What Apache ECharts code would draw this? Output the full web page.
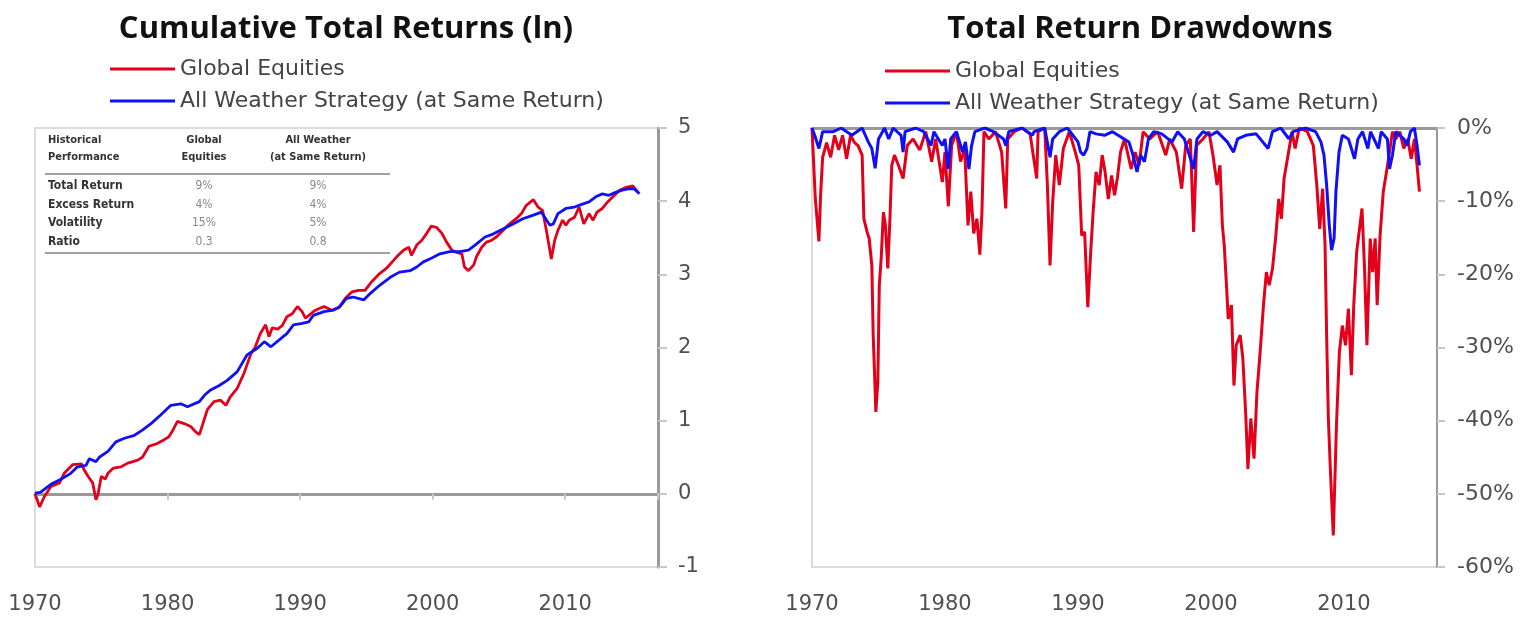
<!DOCTYPE html>
<html>
<head>
<meta charset="utf-8">
<script src="https://cdn.jsdelivr.net/npm/echarts@6/dist/echarts.min.js"></script>
<style>
html,body{margin:0;padding:0;background:#fff;}
#c{width:1539px;height:621px;}
</style>
</head>
<body>
<div id="c"></div>
<script>
// ---------- DATA ----------
const seriesNames = ['Global Equities', 'All Weather Strategy (at Same Return)'];
const xTicks = [1970, 1980, 1990, 2000, 2010];

// Cumulative total returns (ln), Global Equities
const eqCumYears = [1970.0,1970.35,1970.7,1971.2,1971.85,1972.2,1972.85,1973.5,1973.7,1974.0,1974.35,1974.6,1974.75,1975.0,1975.3,1975.5,1975.9,1976.0,1976.5,1977.0,1977.75,1978.1,1978.6,1979.25,1979.75,1980.1,1980.4,1980.75,1981.25,1981.75,1982.1,1982.4,1982.65,1983.0,1983.5,1984.0,1984.4,1984.75,1985.25,1985.77,1986.3,1986.6,1987.0,1987.4,1987.65,1987.9,1988.3,1988.65,1989.0,1989.4,1989.8,1990.15,1990.4,1990.8,1991.15,1991.8,1992.4,1992.9,1993.4,1993.9,1994.4,1994.9,1995.4,1996.0,1996.5,1997.05,1997.4,1997.8,1998.2,1998.4,1998.8,1999.2,1999.55,1999.9,2000.3,2000.7,2001.05,2001.45,2001.8,2002.2,2002.4,2002.7,2003.1,2003.3,2003.7,2004.05,2004.4,2004.8,2005.3,2005.8,2006.3,2006.7,2007.05,2007.6,2007.95,2008.3,2008.6,2008.8,2008.95,2009.2,2009.45,2009.8,2010.05,2010.3,2010.7,2011.05,2011.4,2011.8,2012.1,2012.4,2012.8,2013.2,2013.6,2014.1,2014.6,2015.1,2015.5];
const eqCumValues = [0.0,-0.18,-0.04,0.10,0.15,0.28,0.40,0.41,0.33,0.24,0.15,-0.08,-0.01,0.24,0.20,0.28,0.35,0.37,0.37,0.42,0.46,0.50,0.65,0.69,0.74,0.78,0.87,0.99,0.96,0.92,0.85,0.81,0.95,1.15,1.26,1.28,1.21,1.33,1.44,1.65,1.92,2.00,2.19,2.31,2.15,2.27,2.25,2.30,2.42,2.46,2.56,2.49,2.40,2.46,2.51,2.56,2.51,2.54,2.67,2.76,2.78,2.78,2.90,3.01,3.08,3.19,3.26,3.33,3.37,3.26,3.40,3.47,3.56,3.66,3.64,3.56,3.44,3.33,3.30,3.28,3.10,3.05,3.13,3.24,3.37,3.44,3.46,3.51,3.60,3.69,3.76,3.83,3.94,4.02,3.92,3.87,3.58,3.37,3.21,3.46,3.60,3.74,3.67,3.74,3.78,3.92,3.69,3.83,3.74,3.85,3.90,3.99,4.06,4.15,4.19,4.21,4.12];

// Cumulative total returns (ln), All Weather
const awCumYears = [1970.0,1970.4,1971.2,1971.95,1972.7,1973.2,1973.85,1974.1,1974.6,1974.85,1975.5,1976.1,1976.75,1977.5,1978.1,1978.75,1979.5,1980.25,1981.0,1981.5,1982.4,1982.8,1983.25,1983.9,1984.5,1985.26,1986.0,1986.77,1987.3,1987.8,1988.4,1989.0,1989.5,1990.15,1990.65,1991.0,1991.8,1992.5,1993.0,1993.5,1994.0,1994.8,1995.3,1996.0,1996.8,1997.5,1998.3,1998.8,1999.3,1999.9,2000.55,2001.3,2002.05,2002.7,2003.2,2003.95,2004.55,2005.3,2006.1,2006.8,2007.6,2008.2,2008.6,2008.85,2009.1,2009.45,2010.05,2010.7,2011.3,2011.8,2012.3,2012.8,2013.3,2013.8,2014.3,2014.85,2015.2,2015.6];
const awCumValues = [0.01,0.02,0.13,0.20,0.28,0.37,0.39,0.48,0.44,0.50,0.58,0.71,0.76,0.80,0.87,0.96,1.08,1.21,1.23,1.19,1.26,1.35,1.42,1.48,1.55,1.67,1.90,1.99,2.08,2.01,2.10,2.19,2.31,2.33,2.35,2.44,2.49,2.51,2.56,2.67,2.69,2.65,2.74,2.85,2.96,3.03,3.05,3.10,3.17,3.22,3.28,3.31,3.31,3.33,3.40,3.51,3.55,3.62,3.69,3.76,3.81,3.85,3.74,3.67,3.69,3.83,3.90,3.92,3.96,3.99,4.06,4.10,4.08,4.12,4.15,4.17,4.17,4.10];

// Drawdowns (%), Global Equities
const eqDDYears = [1970.0,1970.25,1970.52,1970.65,1970.8,1971.1,1971.4,1971.7,1972.0,1972.3,1972.6,1972.9,1973.2,1973.46,1973.77,1973.9,1974.14,1974.3,1974.5,1974.6,1974.7,1974.8,1974.95,1975.06,1975.2,1975.37,1975.52,1975.7,1975.86,1976.0,1976.2,1976.5,1976.85,1977.16,1977.6,1978.1,1978.55,1979.0,1979.3,1979.8,1980.0,1980.25,1980.5,1980.86,1981.17,1981.48,1981.73,1981.94,1982.16,1982.4,1982.62,1982.78,1982.93,1983.3,1983.8,1984.26,1984.57,1984.72,1985.2,1985.8,1986.4,1986.9,1987.0,1987.5,1987.7,1987.9,1988.1,1988.33,1988.6,1988.9,1989.35,1989.8,1990.06,1990.28,1990.5,1990.74,1990.96,1991.14,1991.36,1991.6,1991.82,1992.04,1992.28,1992.53,1992.75,1992.96,1993.2,1993.5,1994.0,1994.3,1994.6,1994.9,1995.4,1996.0,1996.6,1996.9,1997.4,1997.8,1998.1,1998.45,1998.7,1998.92,1999.4,1999.85,2000.15,2000.46,2000.68,2000.86,2001.0,2001.17,2001.3,2001.54,2001.73,2001.9,2002.2,2002.4,2002.62,2002.78,2003.0,2003.24,2003.46,2003.7,2003.95,2004.17,2004.38,2004.63,2004.88,2005.1,2005.3,2005.5,2005.8,2006.1,2006.33,2006.64,2007.25,2007.7,2007.96,2008.18,2008.4,2008.58,2008.7,2008.83,2009.0,2009.2,2009.44,2009.66,2009.88,2010.12,2010.34,2010.56,2010.74,2010.96,2011.17,2011.36,2011.55,2011.73,2011.98,2012.16,2012.35,2012.5,2012.72,2012.96,2013.2,2013.43,2013.65,2013.9,2014.2,2014.5,2014.8,2015.06,2015.3,2015.5,2015.68];
const eqDDValues = [0,-9.7,-15.5,-9,-4,-2,-4,-1,-3,-1,-4.2,-1,-2,-2.4,-3.7,-12.4,-14.2,-15.1,-18.8,-28.3,-33.3,-38.8,-34.7,-21.5,-17.9,-11.5,-13.3,-19.2,-12.4,-5.1,-3.7,-5.1,-6.9,-2.4,-1.5,-3,-0.5,-4.6,-1.5,-7.4,-3.3,-10.7,-2.4,-0.5,-4.6,-2.8,-13.3,-8.7,-14.4,-12.4,-17.3,-11.5,-0.5,-1.5,-0.5,-3.3,-11,-1.5,-0.5,0,-0.8,-6.9,-0.5,0,-7.8,-18.8,-10.1,-3.7,-7.8,-2.8,-0.5,-3.3,-5.1,-14.7,-14.2,-24.5,-16.9,-11.5,-6,-7.8,-3.7,-6,-9.7,-6.5,-9.2,-6.9,-3.3,-1.5,-5.6,-3.3,-5.1,-0.5,-1.5,-0.5,-3.7,-1.5,-3.3,-8.3,-2.4,-1.5,-14.2,-2.4,-1.5,-0.5,-3.7,-7.8,-5.1,-13.3,-16,-21.5,-26.1,-24.2,-35.2,-29.7,-28.3,-31.5,-39.3,-46.6,-39.7,-45.2,-36.1,-30.6,-24.2,-19.7,-21.5,-19.2,-14.7,-9.7,-12.4,-6.9,-3.7,-0.5,-2.8,0,-0.5,-2.4,-7.8,-13.8,-8.3,-16,-28.3,-39.7,-47.5,-55.7,-40.6,-30.6,-27,-29.7,-24.7,-33.8,-24.2,-16.9,-13.8,-11,-19.2,-29.7,-15.1,-19.7,-15.1,-24.2,-14.7,-8.7,-6,-3.3,-0.5,-1.5,-0.5,-2.8,-1.5,-4.2,-1.5,-5.1,-8.7];

// Drawdowns (%), All Weather
const awDDYears = [1970.0,1970.2,1970.52,1970.8,1971.6,1972.2,1973.0,1973.77,1974.23,1974.5,1974.75,1975.0,1975.46,1975.77,1976.1,1976.7,1976.85,1977.0,1977.8,1978.4,1978.95,1979.17,1979.8,1980.0,1980.25,1980.43,1980.86,1981.33,1981.54,1981.8,1982.0,1982.25,1983.0,1983.64,1984.4,1984.57,1984.8,1985.8,1986.57,1986.7,1987.5,1987.9,1988.1,1988.6,1989.2,1990.0,1990.2,1990.43,1990.68,1990.9,1991.36,1992.0,1992.6,1993.83,1994.14,1994.44,1994.7,1995.0,1995.3,1995.7,1996.3,1997.07,1997.5,1998.0,1998.7,1998.95,1999.4,2000.0,2000.46,2001.23,2001.7,2002.0,2002.62,2003.4,2004.3,2004.63,2005.25,2005.86,2006.17,2007.1,2007.87,2008.27,2008.5,2008.7,2008.9,2009.07,2009.26,2009.4,2009.63,2009.88,2010.34,2010.8,2011.05,2011.4,2011.8,2012.0,2012.6,2012.8,2013.27,2013.43,2013.65,2013.9,2014.5,2014.75,2015.0,2015.3,2015.5,2015.68];
const awDDValues = [0,-1,-2.8,-0.5,-0.5,0,-1,0,-1.9,-2.8,-5.5,-1.5,0,-1.5,0,-1,-3.3,-0.5,0,-0.5,-2.4,-0.5,-2.4,-1.5,-5.6,-1.5,-0.5,-3.3,-1.9,-5.6,-2.4,-0.5,0,-0.5,-1.5,-2.4,-0.5,0,-1,-0.5,0,-4,-1.5,-0.5,0,-1.9,-3.3,-3.7,-2.8,-0.5,-0.8,-1,-0.5,-1.9,-3.7,-6,-3.7,-4.6,-1.5,-0.5,-0.8,-1.9,-0.5,-1.5,-5.6,-1.5,-0.5,-1,-0.5,-1.9,-3.3,-1.5,-1,-0.8,-2.8,-0.5,0,-1.5,-0.5,0,-0.5,-1.9,-3.7,-7.8,-13.3,-16.7,-15.1,-8.7,-3.3,-1,-1.5,-4.2,-1.5,-0.5,-2.8,-0.5,-2.8,-0.5,-1.5,-5.6,-3.7,-0.5,-1.5,-2.4,-0.5,0,-2.4,-5.1];

// Table
const tableHeader = [['Historical', 'Performance'], ['Global', 'Equities'], ['All Weather', '(at Same Return)']];
const tableRows = ['Total Return', 'Excess Return', 'Volatility', 'Ratio'];
const tableEq = ['9%', '4%', '15%', '0.3'];
const tableAw = ['9%', '4%', '5%', '0.8'];

// ---------- CHART ----------
const RED = '#e2001a', BLUE = '#1010f5';
const pairs = (xs, ys) => xs.map((x, i) => [x, ys[i]]);
const FONT = 'DejaVu Sans, Open Sans, sans-serif';
const TITLE_FONT = 'Open Sans, Lato, sans-serif';
const NARROW = 'Liberation Sans Narrow, DejaVu Sans Condensed, Roboto Condensed, Arial Narrow, sans-serif';
const LABEL_COLOR = '#505050';

const chart = echarts.init(document.getElementById('c'), null, {renderer: 'canvas'});

const xLabelFmt = v => xTicks.indexOf(v) >= 0 ? String(v) : '';

function xAxesFor(gridIndex) {
  return [
    { type: 'value', gridIndex, min: 1970, max: 2017, interval: 10,
      axisLine: { onZero: true, lineStyle: { color: '#9a9a9a', width: 3 } },
      axisTick: { show: gridIndex === 0, length: 6, inside: false, lineStyle: { color: '#c8c8c8', width: 2 } },
      axisLabel: { show: false }, splitLine: { show: false } },
    { type: 'value', gridIndex, min: 1970, max: 2017, interval: 10, position: 'bottom',
      axisLine: { show: false, onZero: false }, axisTick: { show: false }, splitLine: { show: false },
      axisLabel: { show: true, margin: 27, color: LABEL_COLOR, fontSize: 21, fontFamily: FONT, formatter: xLabelFmt } }
  ];
}

// table graphics
const graphics = [];
const hdrX = [48, 204, 318];
tableHeader.forEach((h, i) => {
  h.forEach((t, j) => {
    graphics.push({ type: 'text', x: hdrX[i], y: 140 + j * 17,
      style: { text: t, fill: '#333', font: 'bold 11px ' + NARROW, textAlign: i === 0 ? 'left' : 'center', textVerticalAlign: 'middle' } });
  });
});
graphics.push({ type: 'line', shape: { x1: 45, y1: 174, x2: 390, y2: 174 }, style: { stroke: '#a0a0a0', lineWidth: 2 } });
tableRows.forEach((r, k) => {
  const y = 186 + k * 18.5;
  graphics.push({ type: 'text', x: hdrX[0], y, style: { text: r, fill: '#333', font: 'bold 12px ' + NARROW, textAlign: 'left', textVerticalAlign: 'middle' } });
  graphics.push({ type: 'text', x: hdrX[1], y, style: { text: tableEq[k], fill: '#888', font: '12px ' + NARROW, textAlign: 'center', textVerticalAlign: 'middle' } });
  graphics.push({ type: 'text', x: hdrX[2], y, style: { text: tableAw[k], fill: '#888', font: '12px ' + NARROW, textAlign: 'center', textVerticalAlign: 'middle' } });
});
graphics.push({ type: 'line', shape: { x1: 45, y1: 253, x2: 390, y2: 253 }, style: { stroke: '#a0a0a0', lineWidth: 2 } });

const legendCommon = {
  orient: 'vertical', icon: 'rect', itemWidth: 65, itemHeight: 3, itemGap: 10,
  textStyle: { color: '#444', fontSize: 22, fontFamily: FONT, lineHeight: 22 },
  data: seriesNames
};

const lineSeries = (name, data, color, xi, yi, z, w) => ({
  name, type: 'line', data, xAxisIndex: xi, yAxisIndex: yi, showSymbol: false, symbol: 'none',
  lineStyle: { color, width: w }, itemStyle: { color }, z, animation: false
});

const option = {
  animation: false,
  backgroundColor: '#fff',
  title: [
    { text: 'Cumulative Total Returns (ln)', left: 341, top: 9, textAlign: 'center',
      textStyle: { fontSize: 31, fontWeight: 'bold', color: '#111', fontFamily: TITLE_FONT } },
    { text: 'Total Return Drawdowns', left: 1135, top: 9, textAlign: 'center',
      textStyle: { fontSize: 31, fontWeight: 'bold', color: '#111', fontFamily: TITLE_FONT } }
  ],
  legend: [
    Object.assign({ left: 105, top: 53 }, legendCommon),
    Object.assign({ left: 880, top: 55 }, legendCommon)
  ],
  grid: [
    { left: 35, right: 881, top: 128, bottom: 54, show: true, borderColor: '#dcdcdc', borderWidth: 2, backgroundColor: 'transparent' },
    { left: 812, right: 102, top: 128, bottom: 54, show: true, borderColor: '#dcdcdc', borderWidth: 2, backgroundColor: 'transparent' }
  ],
  xAxis: [...xAxesFor(0), ...xAxesFor(1)],
  yAxis: [
    { type: 'value', gridIndex: 0, position: 'right', min: -1, max: 5, interval: 1,
      axisLine: { show: true, lineStyle: { color: '#9a9a9a', width: 3 } },
      axisTick: { show: true, length: 9, lineStyle: { color: '#c8c8c8', width: 2 } },
      axisLabel: { color: LABEL_COLOR, fontSize: 21, fontFamily: FONT, margin: 20 },
      splitLine: { show: false } },
    { type: 'value', gridIndex: 1, position: 'right', min: -60, max: 0, interval: 10,
      axisLine: { show: true, lineStyle: { color: '#9a9a9a', width: 2 } },
      axisTick: { show: true, length: 8, lineStyle: { color: '#c8c8c8', width: 2 } },
      axisLabel: { color: LABEL_COLOR, fontSize: 22, fontFamily: FONT, margin: 20, formatter: '{value}%' },
      splitLine: { show: false } }
  ],
  series: [
    lineSeries(seriesNames[0], pairs(eqCumYears, eqCumValues), RED, 0, 0, 2, 2.8),
    lineSeries(seriesNames[1], pairs(awCumYears, awCumValues), BLUE, 0, 0, 3, 2.8),
    lineSeries(seriesNames[0], pairs(eqDDYears, eqDDValues), RED, 2, 1, 2, 3),
    lineSeries(seriesNames[1], pairs(awDDYears, awDDValues), BLUE, 2, 1, 3, 3)
  ],
  graphic: graphics
};
chart.setOption(option);
</script>
</body>
</html>
